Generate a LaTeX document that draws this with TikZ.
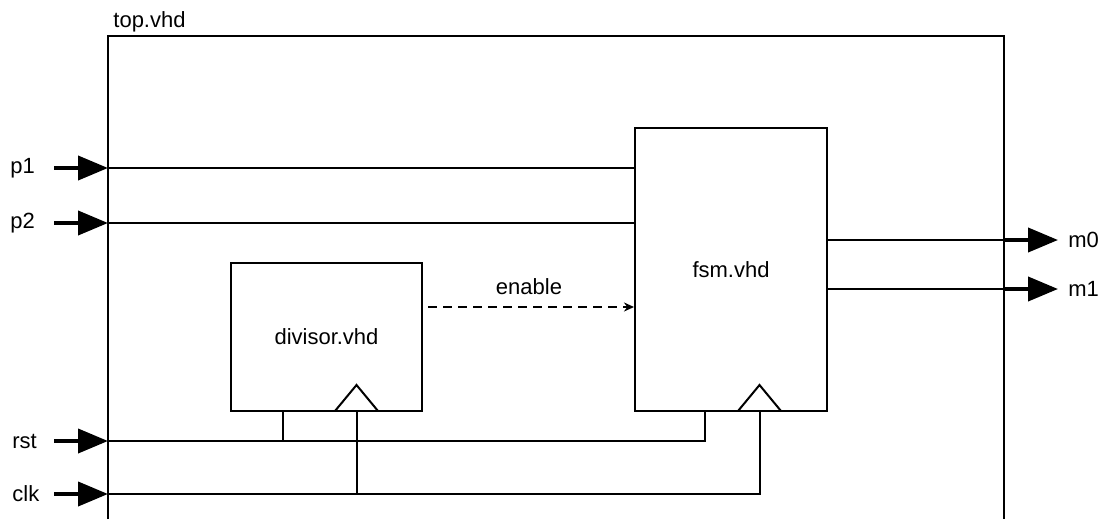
\documentclass[tikz,border=0pt]{standalone}
\usepackage{fontspec}
\setmainfont{Liberation Sans}
\usetikzlibrary{arrows.meta}
\begin{document}
\begin{tikzpicture}[x=0.5pt,y=-0.5pt,
  wire/.style={line width=1pt},
  port/.style={line width=2pt,-{Triangle[length=15pt,width=12pt]}},
  block/.style={draw,line width=1pt,rectangle,inner sep=0pt,font=\fontsize{11}{13}\selectfont},
  lbl/.style={inner sep=0pt,font=\fontsize{11}{13}\selectfont}]
\useasboundingbox (0,0) rectangle (1117,519);
% top frame
\draw[wire] (108,519) -- (108,36) -- (1004,36) -- (1004,519);
\node[lbl,anchor=base west] (toplbl) at (113,28) {top.vhd};
% blocks
\node[block,minimum width=95.5pt,minimum height=74pt] (div) at (326.5,337) {divisor.vhd};
\node[block,minimum width=96pt,minimum height=141.5pt] (fsm) at (731,269.5) {fsm.vhd};
% clock triangles
\draw[wire] (335,411) -- (356.5,385) -- (378,411);
\draw[wire] (738,411) -- (759.5,385) -- (781,411);
% port coordinates
\coordinate (p1a) at (54,168);  \coordinate (p1b) at (108,168);
\coordinate (p2a) at (54,223);  \coordinate (p2b) at (108,223);
\coordinate (rsta) at (54,441); \coordinate (rstb) at (108,441);
\coordinate (clka) at (54,494); \coordinate (clkb) at (108,494);
\coordinate (m0a) at (1004,240); \coordinate (m0b) at (1058,240);
\coordinate (m1a) at (1004,289); \coordinate (m1b) at (1058,289);
\coordinate (ens) at (428,307);
% left labels
\node[lbl,anchor=west] (p1l) at (10,168) {p1};
\node[lbl,anchor=west] (p2l) at (10,223) {p2};
\node[lbl,anchor=west] (rstl) at (12,441) {rst};
\node[lbl,anchor=west] (clkl) at (12,494) {clk};
\node[lbl,anchor=west] (m0l) at (1068,240) {m0};
\node[lbl,anchor=west] (m1l) at (1068,289) {m1};
% port arrows
\draw[port] (p1a) -- (p1b);
\draw[port] (p2a) -- (p2b);
\draw[port] (rsta) -- (rstb);
\draw[port] (clka) -- (clkb);
\draw[port] (m0a) -- (m0b);
\draw[port] (m1a) -- (m1b);
% internal wires
\draw[wire] (p1b) -- (fsm.west |- p1b);
\draw[wire] (p2b) -- (fsm.west |- p2b);
\draw[wire] (fsm.east |- m0a) -- (m0a);
\draw[wire] (fsm.east |- m1a) -- (m1a);
\draw[wire] (rstb) -- (705,441) -- (705,411);
\draw[wire] (283,411) -- (283,441);
\draw[wire] (clkb) -- (759.5,494) -- (759.5,411);
\draw[wire] (356.5,411) -- (356.5,494);
% enable
\draw[line width=1pt,dash pattern=on 4.5pt off 3pt,-{Stealth[length=5pt,width=4.5pt]}] (ens) -- (fsm.west |- ens);
\node[lbl] (en) at (529,287) {enable};
\end{tikzpicture}
\end{document}
